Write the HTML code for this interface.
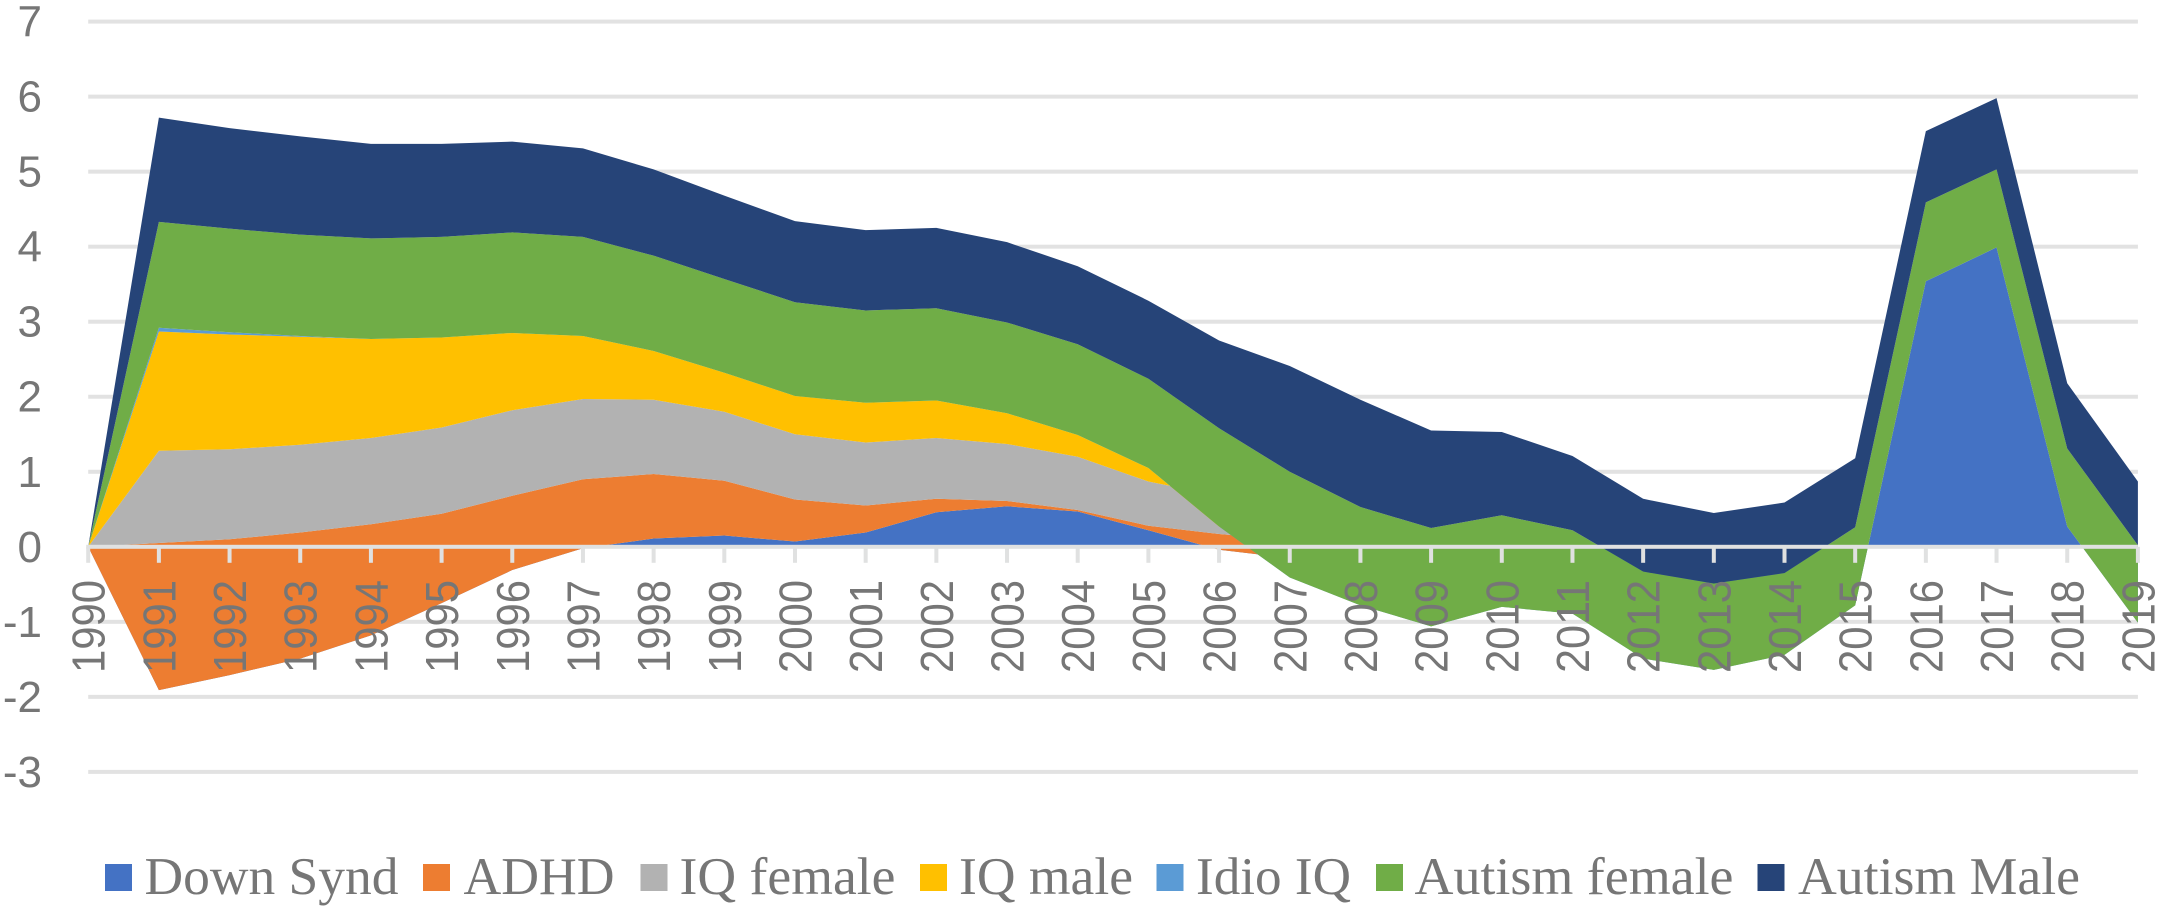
<!DOCTYPE html>
<html>
<head>
<meta charset="utf-8">
<title>Stacked area chart</title>
<style>
html,body{margin:0;padding:0;background:#fff;}
svg{display:block;}
.legend-text{font-family:"Liberation Serif",serif;font-size:53px;fill:#767676;}
</style>
</head>
<body>
<svg id="chart" width="2158" height="911" viewBox="0 0 2158 911" xmlns="http://www.w3.org/2000/svg">
  <rect width="2158" height="911" fill="#ffffff"/>
  <g id="grid"></g>
  <g id="areas"></g>
  <g id="axis"></g>
  <g id="ylabels"></g>
  <g id="xlabels"></g>
  <g>
    <g>
      <rect x="105" y="864" width="27" height="27" fill="#4472C4"/>
      <text class="legend-text" x="144.5" y="894" textLength="254" lengthAdjust="spacingAndGlyphs">Down Synd</text>
    </g>
    <g>
      <rect x="423" y="864" width="27" height="27" fill="#ED7D31"/>
      <text class="legend-text" x="463.5" y="894" textLength="151" lengthAdjust="spacingAndGlyphs">ADHD</text>
    </g>
    <g>
      <rect x="640.5" y="864" width="27" height="27" fill="#B2B2B2"/>
      <text class="legend-text" x="679.5" y="894" textLength="216" lengthAdjust="spacingAndGlyphs">IQ female</text>
    </g>
    <g>
      <rect x="920" y="864" width="27" height="27" fill="#FFC000"/>
      <text class="legend-text" x="959" y="894" textLength="174" lengthAdjust="spacingAndGlyphs">IQ male</text>
    </g>
    <g>
      <rect x="1156.5" y="864" width="27" height="27" fill="#5B9BD5"/>
      <text class="legend-text" x="1196" y="894" textLength="155" lengthAdjust="spacingAndGlyphs">Idio IQ</text>
    </g>
    <g>
      <rect x="1376" y="864" width="27" height="27" fill="#70AD47"/>
      <text class="legend-text" x="1414.5" y="894" textLength="319" lengthAdjust="spacingAndGlyphs">Autism female</text>
    </g>
    <g>
      <rect x="1757.5" y="864" width="27" height="27" fill="#264478"/>
      <text class="legend-text" x="1798" y="894" textLength="282" lengthAdjust="spacingAndGlyphs">Autism Male</text>
    </g>
  </g>
</svg>
<script>
const years = [1990,1991,1992,1993,1994,1995,1996,1997,1998,1999,2000,2001,2002,2003,2004,2005,2006,2007,2008,2009,2010,2011,2012,2013,2014,2015,2016,2017,2018,2019];
const yTicks = [7,6,5,4,3,2,1,0,-1,-2,-3];

const downSynd = [0,-1.91,-1.71,-1.49,-1.18,-0.75,-0.31,-0.02,0.11,0.15,0.07,0.19,0.46,0.54,0.47,0.22,-0.04,-0.15,-0.30,-0.45,-0.40,-0.45,-0.70,-0.80,-0.70,-0.78,3.54,3.99,0.27,-1.01];
const adhd = [0,1.96,1.81,1.68,1.48,1.19,0.99,0.92,0.86,0.73,0.56,0.36,0.18,0.07,0.02,0.06,0.21,0.24,-0.10,-0.10,-0.10,-0.10,-0.15,-0.15,-0.15,0,0,0,0,0];
const iqFemale = [0,1.23,1.20,1.17,1.15,1.15,1.14,1.07,0.99,0.92,0.87,0.84,0.81,0.76,0.71,0.59,0.51,-0.09,-0.15,-0.20,-0.12,-0.13,-0.20,-0.25,-0.20,0,0,0,0,0];
const iqMale = [0,1.59,1.53,1.44,1.32,1.20,1.03,0.84,0.65,0.52,0.51,0.53,0.50,0.41,0.29,0.18,-0.41,-0.20,-0.10,-0.15,-0.08,-0.10,-0.25,-0.25,-0.25,0,0,0,0,0];
const idioIq = [0,0.05,0.03,0.01,0,0,0,0,0,0,0,0,0,0,0,0,0,-0.21,-0.13,-0.16,-0.10,-0.11,-0.19,-0.19,-0.14,0,0,0,0,0];
const autismFemale = [0,1.41,1.38,1.35,1.34,1.34,1.34,1.32,1.27,1.25,1.25,1.23,1.23,1.21,1.21,1.19,1.31,1.41,1.31,1.31,1.22,1.11,1.16,1.15,1.09,1.04,1.05,1.04,1.04,1.03];
const autismMale = [0,1.39,1.34,1.31,1.26,1.24,1.21,1.18,1.15,1.11,1.08,1.07,1.07,1.07,1.04,1.04,1.17,1.41,1.43,1.30,1.11,0.99,0.97,0.94,0.94,0.92,0.95,0.95,0.87,0.85];

const NS = 'http://www.w3.org/2000/svg';
const xLeft = 88.2, xRight = 2137.9, yZero = 546.8, yUnit = 75.03;
function xScale(i){ return xLeft + i * (xRight - xLeft) / (years.length - 1); }
function yScale(v){ return yZero - v * yUnit; }
function make(tag, attrs, parent){
  const el = document.createElementNS(NS, tag);
  for (const k in attrs) el.setAttribute(k, attrs[k]);
  parent.appendChild(el);
  return el;
}

const grid = document.getElementById('grid');
yTicks.forEach(function(t){
  if (t === 0) return;
  const line = make('rect', {x:xLeft, y:yScale(t)-2, width:xRight-xLeft, height:4, fill:'#E2E2E2'}, grid);
  
  
});

const stackOrder = [downSynd, adhd, iqFemale, iqMale, idioIq, autismFemale, autismMale];
const stackColors = ['#4472C4','#ED7D31','#B2B2B2','#FFC000','#5B9BD5','#70AD47','#264478'];
const stackNames = ['down-synd','adhd','iq-female','iq-male','idio-iq','autism-female','autism-male'];
const areas = document.getElementById('areas');
let lower = years.map(function(){ return 0; });
stackOrder.forEach(function(series, s){
  const upper = series.map(function(v, i){ return lower[i] + v; });
  let d = '';
  upper.forEach(function(v, i){ d += (i ? 'L' : 'M') + xScale(i).toFixed(2) + ' ' + yScale(v).toFixed(2); });
  for (let i = years.length - 1; i >= 0; i--) d += 'L' + xScale(i).toFixed(2) + ' ' + yScale(lower[i]).toFixed(2);
  d += 'Z';
  const path = make('path', {d:d, fill:stackColors[s]}, areas);
  
  
  lower = upper;
});

const axis = document.getElementById('axis');
const axisLine = make('rect', {x:xLeft-2, y:yZero-2, width:xRight-xLeft+2, height:4, fill:'#E0E1E1'}, axis);


years.forEach(function(yr, i){
  const tick = make('rect', {x:xScale(i)-2, y:yZero, width:4, height:16, fill:'#E0E1E1'}, axis);
  
  
});

const ylabels = document.getElementById('ylabels');
yTicks.forEach(function(t){
  const label = make('text', {x:42, y:yScale(t)+15, 'text-anchor':'end', 'font-family':'"Liberation Sans", sans-serif', 'font-size':44, fill:'#767676'}, ylabels);
  
  
  label.textContent = String(t);
});

const xlabels = document.getElementById('xlabels');
years.forEach(function(yr, i){
  const px = xScale(i) + 16.5;
  const label = make('text', {x:0, y:0, transform:'translate(' + px.toFixed(2) + ' 673) rotate(-90)', 'text-anchor':'start', 'font-family':'"Liberation Sans", sans-serif', 'font-size':46, fill:'#767676', textLength:93, lengthAdjust:'spacingAndGlyphs'}, xlabels);
  
  
  label.textContent = String(yr);
});
</script>
</body>
</html>
